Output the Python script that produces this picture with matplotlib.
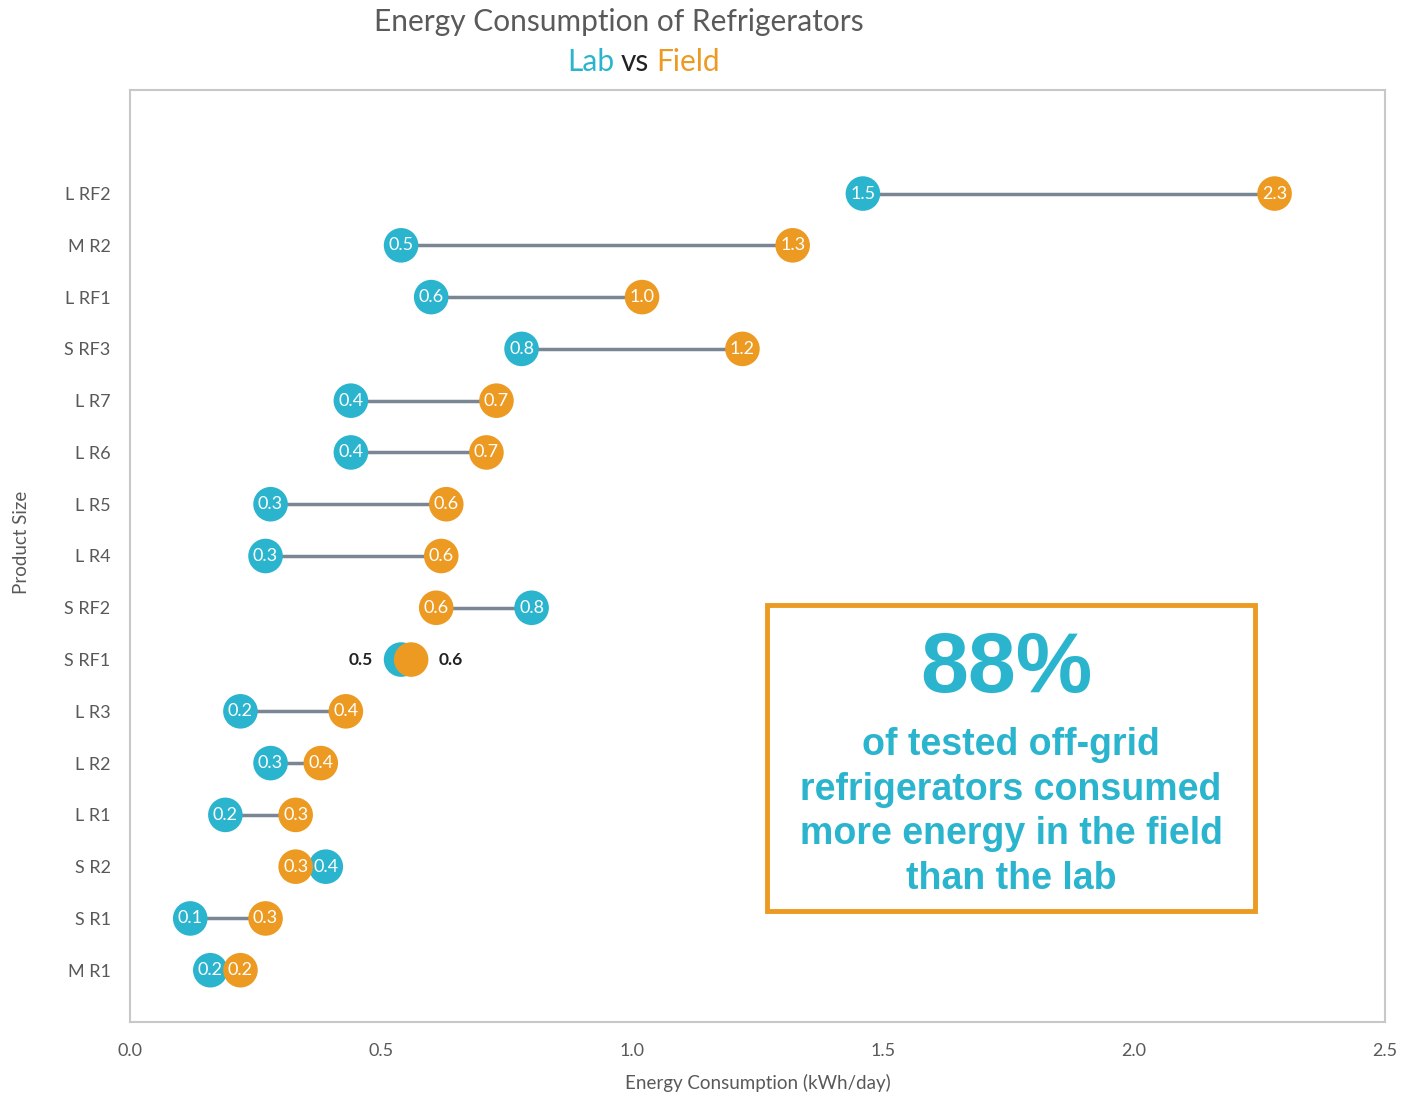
import numpy as np
import matplotlib.pyplot as plt

# Refrigerator energy use, lab test vs field measurement (kWh/day)
products = ["M R1", "S R1", "S R2", "L R1", "L R2", "L R3", "S RF1", "S RF2",
            "L R4", "L R5", "L R6", "L R7", "S RF3", "L RF1", "M R2", "L RF2"]
lab = [0.16, 0.12, 0.39, 0.19, 0.28, 0.22, 0.54, 0.80,
       0.27, 0.28, 0.44, 0.44, 0.78, 0.60, 0.54, 1.46]
field = [0.22, 0.27, 0.33, 0.33, 0.38, 0.43, 0.56, 0.61,
         0.62, 0.63, 0.71, 0.73, 1.22, 1.02, 1.32, 2.28]

TEAL = "#2AB4CE"
ORANGE = "#EC9A22"
LINE = "#7A8694"
GREY = "#595959"

plt.rcParams['font.family'] = ['Lato', 'DejaVu Sans']

fig = plt.figure(figsize=(14.01, 10.98), dpi=100)
ax = fig.add_axes([130 / 1401, 1 - 1022 / 1098, 1255 / 1401, 932 / 1098])

y = np.arange(len(products))
for i in y:
    ax.plot([lab[i], field[i]], [i, i], color=LINE, lw=2.5, zorder=1)

ax.scatter(lab, y, s=620, color=TEAL, zorder=2, edgecolors="none")
ax.scatter(field, y, s=620, color=ORANGE, zorder=3, edgecolors="none")

for i in y:
    if products[i] == "S RF1":
        # points overlap, so label them outside in dark text
        ax.annotate(f"{lab[i]:.1f}", (lab[i], i), xytext=(-20, 0),
                    textcoords="offset points", ha="right", va="center",
                    fontsize=12.5, fontweight="bold", color="#222222", zorder=5)
        ax.annotate(f"{field[i]:.1f}", (field[i], i), xytext=(20, 0),
                    textcoords="offset points", ha="left", va="center",
                    fontsize=12.5, fontweight="bold", color="#222222", zorder=5)
        continue
    ax.text(lab[i], i, f"{lab[i]:.1f}", ha="center", va="center",
            fontsize=13, color="white", zorder=5)
    ax.text(field[i], i, f"{field[i]:.1f}", ha="center", va="center",
            fontsize=13, color="white", zorder=5)

ax.set_xlim(0, 2.5)
ax.set_ylim(-1, 17)
ax.set_xticks(np.arange(0, 2.51, 0.5))
ax.set_xticklabels([f"{v:.1f}" for v in np.arange(0, 2.51, 0.5)])
ax.set_yticks(y)
ax.set_yticklabels(products)
ax.tick_params(length=0, labelsize=13, colors=GREY)
ax.tick_params(axis="x", pad=15)
ax.tick_params(axis="y", pad=14)
for sp in ax.spines.values():
    sp.set_color("#C8C8C8")
    sp.set_linewidth(1.5)

ax.set_xlabel("Energy Consumption (kWh/day)", fontsize=13.5, color=GREY, labelpad=11)
fig.text(22 / 1401, 1 - 542 / 1098, "Product Size", rotation=90, ha="center",
         va="center", fontsize=13.5, color=GREY)

# two-line title with coloured series names
fig.text(619 / 1401, 1 - 22 / 1098, "Energy Consumption of Refrigerators",
         ha="center", va="center", fontsize=21.5, color="#5A5A5A")
fig.text(635 / 1401, 1 - 62 / 1098, "vs", ha="center", va="center",
         fontsize=21.5, color="#222222")
fig.text(614 / 1401, 1 - 62 / 1098, "Lab", ha="right", va="center",
         fontsize=21.5, color=TEAL)
fig.text(656 / 1401, 1 - 62 / 1098, "Field", ha="left", va="center",
         fontsize=21.5, color=ORANGE)

# callout box
box = plt.Rectangle((767 / 1401, 1 - 911 / 1098), 488 / 1401, 306 / 1098,
                    transform=fig.transFigure, fill=True, facecolor="white",
                    edgecolor=ORANGE, lw=3.5, zorder=6)
fig.patches.append(box)
fig.text(1006 / 1401, 1 - 670 / 1098, "88%", ha="center", va="center",
         fontsize=62, fontweight="bold", color=TEAL,
         family=["Liberation Sans", "DejaVu Sans"], zorder=7)
fig.text(1011 / 1401, 1 - 812 / 1098,
         "of tested off-grid\nrefrigerators consumed\nmore energy in the field\nthan the lab",
         ha="center", va="center", fontsize=27, fontweight="bold", color=TEAL,
         linespacing=1.3, family=["Liberation Sans", "DejaVu Sans"], zorder=7)

fig.savefig("out.png", dpi=100, facecolor="white")
